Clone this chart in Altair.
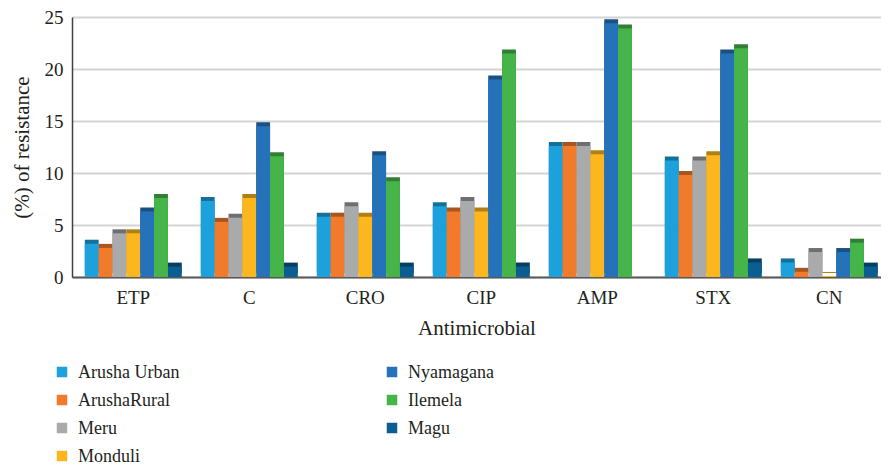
import altair as alt
import pandas as pd

categories = ["ETP", "C", "CRO", "CIP", "AMP", "STX", "CN"]
series = ["Arusha Urban", "ArushaRural", "Meru", "Monduli", "Nyamagana", "Ilemela", "Magu"]
colors = ["#1da1dc", "#f27a2b", "#a9aaac", "#fdb71e", "#2672ba", "#45b549", "#0b5e91"]
side_colors = ["#14709a", "#a9561e", "#6e6f71", "#b08015", "#1a5082", "#307f33", "#073f61"]

arusha_urban = [3.2, 7.3, 5.8, 6.8, 12.6, 11.2, 1.4]
arusha_rural = [2.8, 5.3, 5.8, 6.3, 12.6, 9.8, 0.5]
meru = [4.2, 5.7, 6.8, 7.3, 12.6, 11.2, 2.4]
monduli = [4.2, 7.6, 5.8, 6.3, 11.8, 11.7, 0.1]
nyamagana = [6.3, 14.5, 11.7, 19.0, 24.4, 21.5, 2.4]
ilemela = [7.6, 11.6, 9.2, 21.5, 23.9, 22.0, 3.3]
magu = [1.0, 1.0, 1.0, 1.0, 0.0, 1.4, 1.0]

values = [arusha_urban, arusha_rural, meru, monduli, nyamagana, ilemela, magu]
rows = []
for s, vals in zip(series, values):
    for c, v in zip(categories, vals):
        rows.append({"Antimicrobial": c, "District": s, "Value": v})
df = pd.DataFrame(rows)

# legend entries: left column holds the first four districts, right column the rest
leg = pd.DataFrame({
    "District": series,
    "col": [0 if i < 4 else 1 for i in range(len(series))],
    "row": [i if i < 4 else i - 4 for i in range(len(series))],
})

FONT = "Liberation Serif"
TXT = "#231f20"

x_enc = alt.X(
    "Antimicrobial:N",
    sort=categories,
    scale=alt.Scale(paddingInner=0.164, paddingOuter=0.069, align=0.8),
    axis=alt.Axis(
        title="Antimicrobial",
        labelAngle=0,
        ticks=False,
        labelFontSize=19,
        labelPadding=11,
        titleFontSize=21,
        titlePadding=10,
        titleFontWeight="normal",
        domainColor="#595959",
        domainWidth=2,
        grid=False,
    ),
)
y_enc = alt.Y(
    "Value:Q",
    scale=alt.Scale(domain=[0, 25], nice=False),
    axis=alt.Axis(
        title="(%) of resistance",
        values=[0, 5, 10, 15, 20, 25],
        ticks=False,
        labelFontSize=19,
        labelPadding=9,
        titleFontSize=21,
        titlePadding=12,
        titleFontWeight="normal",
        domainColor="#404040",
        domainWidth=1.5,
        gridColor="#d4d4d4",
        gridWidth=2,
    ),
)
xoff = alt.XOffset("District:N", sort=series, scale=alt.Scale(paddingInner=0, paddingOuter=0))

side = alt.Chart(df).mark_bar(xOffset=5, yOffset=-4).encode(
    x=x_enc,
    y=y_enc,
    xOffset=xoff,
    color=alt.Color("District:N", scale=alt.Scale(domain=series, range=side_colors), legend=None),
)

front = alt.Chart(df).mark_bar().encode(
    x=x_enc,
    y=y_enc,
    xOffset=xoff,
    color=alt.Color("District:N", scale=alt.Scale(domain=series, range=colors), legend=None),
)

bars = alt.layer(side, front).resolve_scale(color="independent")

lx = alt.X("col:Q", scale=alt.Scale(domain=[0, 1], range=[-10, 320]), axis=None)
ly = alt.Y("row:Q", scale=alt.Scale(domain=[0, 3], range=[355, 439]), axis=None)

leg_sym = alt.Chart(leg).mark_square(size=110, opacity=1).encode(
    x=lx,
    y=ly,
    color=alt.Color("District:N", scale=alt.Scale(domain=series, range=colors), legend=None),
)
leg_txt = alt.Chart(leg).mark_text(
    align="left", baseline="middle", dx=16, dy=1, font=FONT, fontSize=18, color=TXT
).encode(x=lx, y=ly, text="District:N")

legend = alt.layer(leg_sym, leg_txt)

chart = (
    alt.layer(bars, legend)
    .resolve_scale(x="independent", y="independent", color="independent")
    .properties(
        width=809,
        height=260,
        autosize=alt.AutoSizeParams(type="none"),
        padding={"left": 64, "top": 9, "right": 0, "bottom": 190},
    )
    .configure(font=FONT)
    .configure_view(stroke=None)
    .configure_axis(labelColor=TXT, titleColor=TXT, labelFont=FONT, titleFont=FONT)
)

chart.save("out.html", embed_options={"renderer": "svg", "actions": False})
